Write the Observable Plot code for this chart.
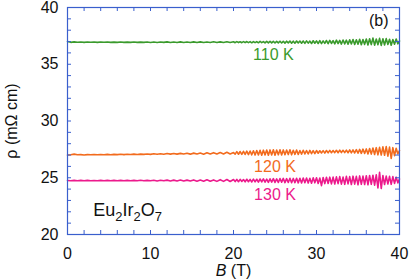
<!DOCTYPE html>
<html><head><meta charset="utf-8">
<script src="https://cdn.jsdelivr.net/npm/d3@7"></script>
<script src="https://cdn.jsdelivr.net/npm/@observablehq/plot@0.6"></script>
<style>
body{margin:0;background:#fff}
svg{font-family:"Liberation Sans",Arial,Helvetica,sans-serif}
</style>
</head><body><div id="chart"></div>
<script>
// Magnetic field B (T)
const fieldB = [0,0.4,0.8,1.2,1.6,2,2.4,2.8,3.2,3.6,4,4.4,4.8,5.2,5.6,6,6.4,6.8,7.2,7.6,8,8.4,8.8,9.2,9.6,10,10.4,10.8,11.2,11.6,12,12.4,12.8,13.2,13.6,14,14.4,14.8,15.2,15.6,16,16.4,16.8,17.2,17.6,18,18.4,18.8,19.2,19.6,
20,
20.2,20.4,20.6,20.8,21,21.2,21.4,21.6,21.8,22,22.2,22.4,22.6,22.8,23,23.2,23.4,23.6,23.8,24,24.2,24.4,24.6,24.8,25,25.2,25.4,25.6,25.8,26,26.2,26.4,26.6,26.8,27,27.2,27.4,27.6,27.8,28,28.2,28.4,28.6,28.8,29,29.2,29.4,29.6,29.8,30,30.2,30.4,30.6,30.8,31,31.2,31.4,31.6,31.8,32,32.2,32.4,32.6,32.8,33,33.2,33.4,33.6,33.8,34,34.2,34.4,34.6,34.8,35,35.2,35.4,35.6,35.8,36,36.2,36.4,36.6,36.8,37,37.2,37.4,37.6,37.8,38,38.2,38.4,38.6,38.8,39,39.2,39.4,39.6,39.8,40];

// rho (mOhm cm) at 110 K
const rho110 = [37.00,36.93,36.97,36.94,36.96,36.93,36.96,36.94,36.96,36.93,36.96,36.94,36.96,36.93,36.95,36.93,36.96,36.93,36.95,36.93,36.96,36.93,36.95,36.93,36.96,
36.92,36.96,36.92,36.96,36.93,36.97,36.92,36.96,36.92,36.97,36.92,36.96,36.91,36.97,36.92,36.97,36.91,36.96,36.92,36.98,36.91,36.97,36.92,36.98,36.91,
36.98,
36.90,36.99,36.91,36.98,36.90,36.99,36.91,37.00,36.90,36.99,
36.89,37.00,36.90,36.99,36.89,37.01,36.90,37.00,36.88,37.01,
36.89,37.02,36.88,37.01,36.87,37.02,36.89,37.03,36.87,37.02,
36.86,37.03,36.88,37.04,36.86,37.03,36.85,37.05,36.87,37.04,
36.85,37.05,36.84,37.06,36.86,37.04,36.83,37.07,36.85,37.06,
36.83,37.08,36.82,37.06,36.84,37.09,36.81,37.10,36.83,37.08,
36.80,37.12,36.82,37.10,36.78,37.14,36.80,37.12,36.77,37.15,
36.78,37.18,36.74,37.16,36.76,37.20,36.72,37.17,36.75,37.22,
36.70,37.25,36.73,37.30,36.68,37.22,36.72,37.28,36.66,37.24,
36.70,37.26,36.74,37.20,36.68,37.18,36.76,37.22,36.80,37.05];

// rho at 120 K
const rho120 = [27.00,27.03,27.08,27.02,27.04,27.01,27.04,27.02,27.05,27.02,27.05,27.03,27.06,27.03,27.06,27.04,27.07,27.04,27.07,27.05,27.08,27.05,27.08,27.06,27.09,
27.06,27.11,27.07,27.12,27.07,27.13,27.08,27.14,27.08,27.15,27.09,27.16,27.08,27.17,27.09,27.18,27.08,27.20,27.09,27.21,27.10,27.22,27.10,27.24,27.09,
27.22,
27.08,27.30,27.07,27.31,27.06,27.33,27.05,27.34,27.04,27.36,
27.02,27.38,27.00,27.40,27.01,27.42,26.98,27.43,27.00,27.44,
26.99,27.45,27.01,27.46,26.98,27.44,27.02,27.47,27.00,27.45,
27.03,27.44,27.04,27.46,27.02,27.42,27.06,27.44,27.05,27.40,
27.08,27.42,27.10,27.40,27.09,27.41,27.12,27.39,27.13,27.40,
27.16,27.38,27.18,27.39,27.17,27.40,27.19,27.41,27.20,27.40,
27.21,27.42,27.20,27.43,27.22,27.42,27.21,27.44,27.20,27.45,
27.19,27.46,27.18,27.48,27.16,27.50,27.15,27.52,27.14,27.54,
27.10,27.58,27.08,27.62,27.05,27.65,27.02,27.68,27.00,27.72,
26.98,27.75,26.90,27.70,26.70,27.65,26.95,27.60,27.10,27.40];

// rho at 130 K
const rho130 = [24.76,24.73,24.77,24.74,24.77,24.73,24.77,24.74,24.76,24.73,24.77,24.74,24.77,24.73,24.77,24.74,24.77,24.73,24.77,24.74,24.77,24.73,24.78,24.73,24.77,
24.73,24.78,24.72,24.78,24.73,24.79,24.72,24.79,24.72,24.80,24.71,24.79,24.71,24.81,24.70,24.80,24.70,24.82,24.69,24.81,24.68,24.83,24.68,24.84,24.67,
24.84,
24.66,24.85,24.65,24.86,24.67,24.84,24.64,24.87,24.65,24.86,
24.63,24.88,24.64,24.87,24.62,24.89,24.63,24.90,24.61,24.88,
24.60,24.91,24.62,24.92,24.59,24.90,24.58,24.93,24.61,24.94,
24.57,24.92,24.58,24.95,24.56,24.94,24.57,24.96,24.55,24.95,
24.54,24.97,24.56,24.98,24.53,24.96,24.52,24.99,24.55,25.00,
24.50,24.98,24.30,25.02,24.48,25.04,24.50,25.05,24.46,25.06,
24.45,25.08,24.48,25.10,24.44,25.06,24.42,25.12,24.46,25.10,
24.40,25.14,24.44,25.12,24.38,25.16,24.42,25.15,24.40,25.18,
24.38,25.20,24.42,25.22,24.35,25.25,24.10,25.48,24.05,25.20,
24.40,25.15,24.45,25.12,24.42,25.10,24.50,25.05,24.55,24.90];

const temps = ["110 K", "120 K", "130 K"];
const colors = ["#3a9a2c", "#f26b1d", "#ec1a8c"];
const xTickLabels = [0, 10, 20, 30, 40];
const yTickLabels = [20, 25, 30, 35, 40];
const xMinorTicks = [0,2,4,6,8,10,12,14,16,18,20,22,24,26,28,30,32,34,36,38,40];
const yMinorTicks = [20,21,22,23,24,25,26,27,28,29,30,31,32,33,34,35,36,37,38,39,40];

const seriesVals = [rho110, rho120, rho130];
const rows = [];
temps.forEach((t, k) => fieldB.forEach((b, i) => rows.push({B: b, rho: seriesVals[k][i], T: t})));

const axisBlue = "#3a5fcd";
const W = 409, H = 280, mL = 67, mR = 10, mT = 7, mB = 46;
const pw = W - mL - mR, ph = H - mT - mB, tk = 4;

const chart = Plot.plot({
  width: W, height: H,
  marginLeft: mL, marginRight: mR, marginTop: mT, marginBottom: mB,
  style: {fontFamily: '"Liberation Sans",Arial,sans-serif', fontSize: "16px", color: "#111", background: "#fff", overflow: "visible"},
  x: {domain: [0, 40]},
  y: {domain: [20, 40]},
  color: {domain: temps, range: colors},
  marks: [
    Plot.line(rows, {x: "B", y: "rho", z: "T", stroke: "T", strokeWidth: 1.6}),
    Plot.frame({stroke: axisBlue, strokeWidth: 1.2}),
    Plot.tickX(xMinorTicks, {x: d => d, stroke: axisBlue, insetTop: ph - tk}),
    Plot.tickX(xMinorTicks, {x: d => d, stroke: axisBlue, insetBottom: ph - tk}),
    Plot.tickY(yMinorTicks, {y: d => d, stroke: axisBlue, insetRight: pw - tk}),
    Plot.tickY(yMinorTicks, {y: d => d, stroke: axisBlue, insetLeft: pw - tk}),
    Plot.axisX({ticks: xTickLabels, tickSize: 0, tickPadding: 13, label: "B (T)", labelAnchor: "center", labelArrow: "none", labelOffset: 41, fontSize: 16}),
    Plot.axisY({ticks: yTickLabels, tickSize: 0, tickPadding: 9, label: "ρ (mΩ cm)", labelAnchor: "center", labelArrow: "none", labelOffset: 62, fontSize: 16}),
    Plot.text(["110 K"], {x: 24.8, y: 35.8, text: d => d, fill: colors[0], fontSize: 16}),
    Plot.text(["120 K"], {x: 25, y: 25.95, text: d => d, fill: colors[1], fontSize: 16}),
    Plot.text(["130 K"], {x: 25, y: 23.5, text: d => d, fill: colors[2], fontSize: 16}),
    Plot.text(["Eu2Ir2O7"], {x: 3.1, y: 22.1, text: d => d, textAnchor: "start", fill: "#111", fontSize: 18}),
    Plot.text(["(b)"], {x: 37.5, y: 38.8, text: d => d, fill: "#111", fontSize: 16})
  ]
});
document.getElementById("chart").appendChild(chart);

// rich text: subscripts and italic B
d3.select(chart).selectAll("text").each(function() {
  const el = d3.select(this);
  const s = this.textContent;
  if (s === "Eu2Ir2O7") {
    this.textContent = "";
    const parts = [["Eu", 0], ["2", 1], ["Ir", 0], ["2", 1], ["O", 0], ["7", 1]];
    let sub = false;
    parts.forEach(([p, isSub]) => {
      const ts = el.append("tspan").text(p);
      if (isSub && !sub) { ts.attr("dy", "5").attr("font-size", "13"); sub = true; }
      else if (isSub) { ts.attr("font-size", "13"); }
      else if (!isSub && sub) { ts.attr("dy", "-5"); sub = false; }
    });
  } else if (s === "B (T)") {
    this.textContent = "";
    el.append("tspan").attr("font-style", "italic").text("B");
    el.append("tspan").text(" (T)");
  }
});
</script>
</body></html>
